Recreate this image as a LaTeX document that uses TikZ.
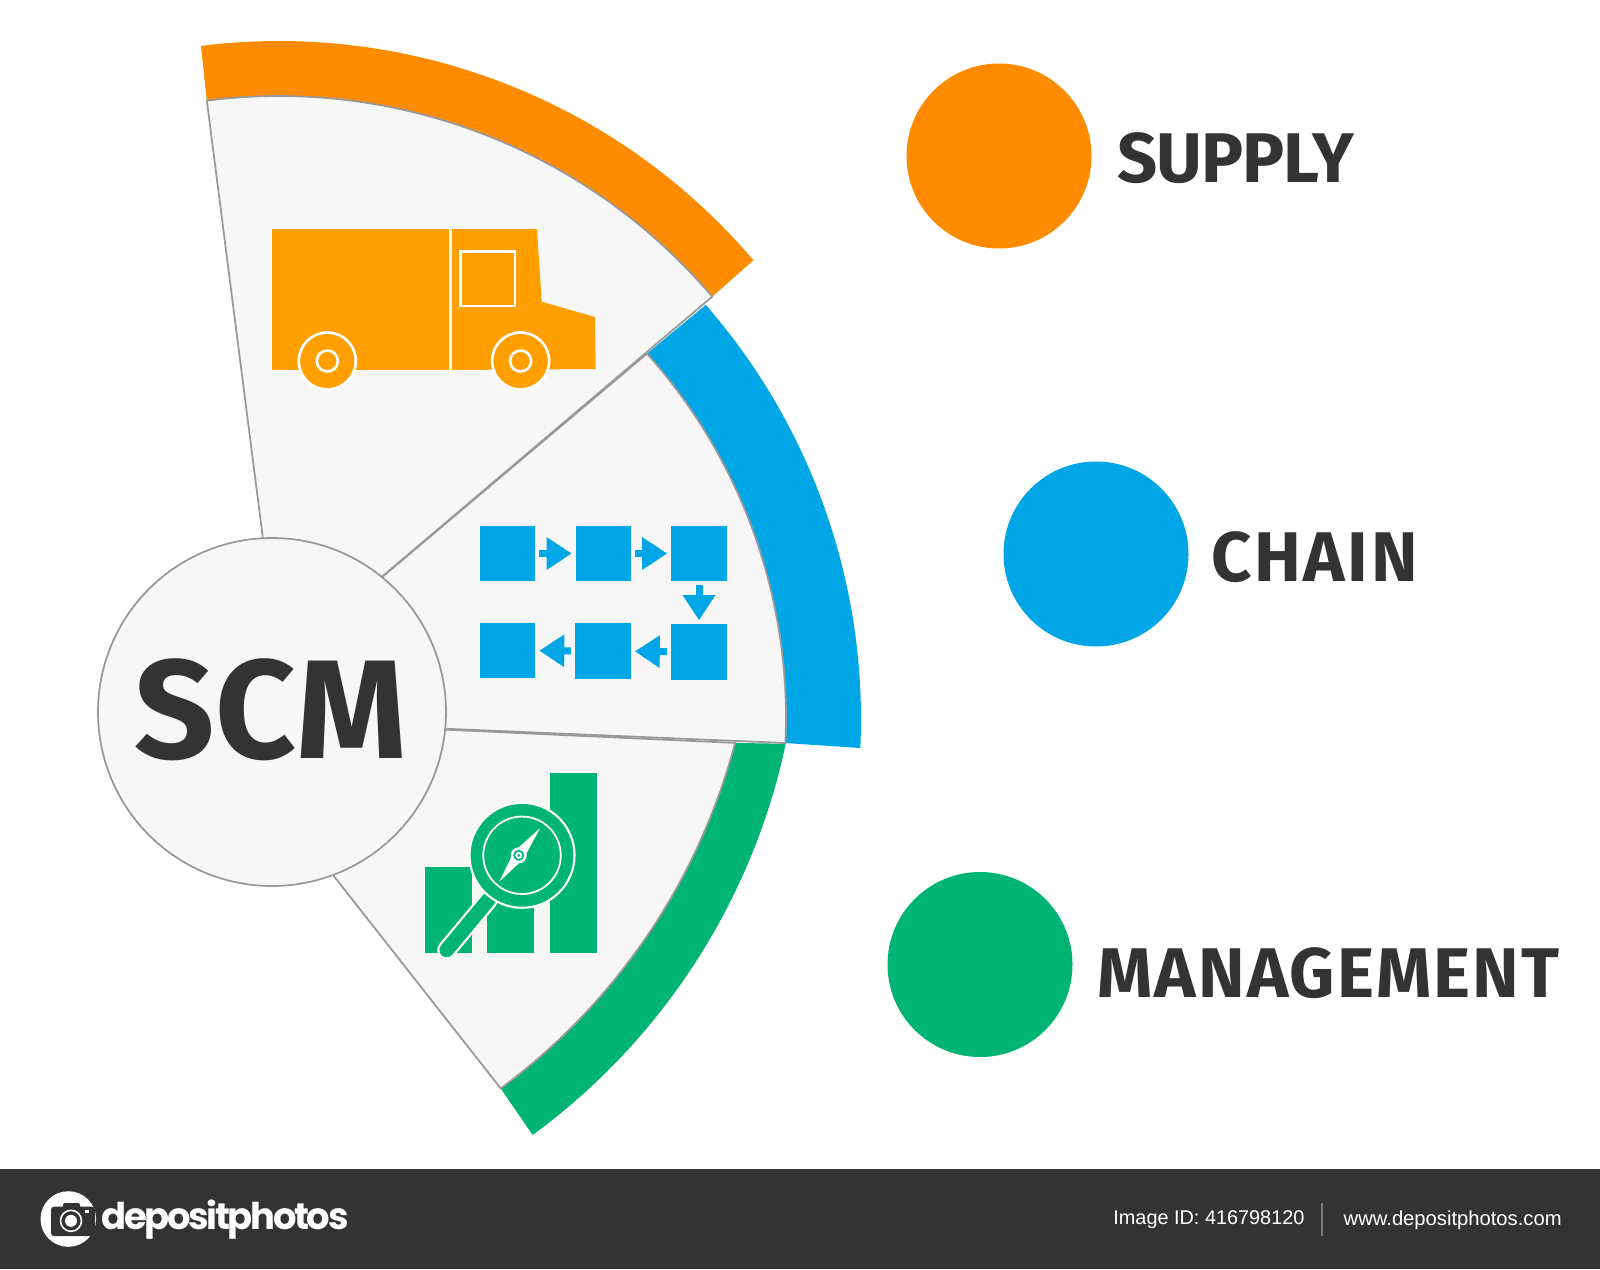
\documentclass[tikz,border=0pt]{standalone}
\usepackage{fontspec}
\usetikzlibrary{arrows.meta}
\newfontfamily\labelfont{Fira Sans}
\newfontfamily\bigfont[LetterSpace=0.5]{Fira Sans}
\newfontfamily\logofont[LetterSpace=-6.3]{Poppins}
\newfontfamily\barfont{Liberation Sans}
\definecolor{supplyc}{HTML}{FF8C00}
\definecolor{truckc}{HTML}{FFA000}
\definecolor{chainc}{HTML}{00A6E6}
\definecolor{managec}{HTML}{00B574}
\definecolor{inkc}{HTML}{333333}
\definecolor{panelc}{HTML}{F7F7F7}
\definecolor{edgec}{HTML}{999999}
\tikzset{panel/.style = {fill = panelc,
                         draw = edgec,
                         line width = 0.5pt},
         bigdot/.style = {shape = circle,
                          inner sep = 0pt,
                          minimum size = 1.85cm},
         wordlabel/.style = {text = inkc,
                             inner sep = 0pt,
                             font = \labelfont\bfseries\fontsize{20}{24}\selectfont},
         flowbox/.style = {shape = rectangle,
                           fill = chainc,
                           inner sep = 0pt,
                           outer sep = 0.04cm,
                           minimum size = 0.556cm},
         flowarrow/.style = {chainc,
                             line width = 0.07cm,
                             -{Triangle[length = 0.25cm, width = 0.31cm]}},
         wheel/.style = {shape = circle,
                         fill = truckc,
                         draw = white,
                         line width = 0.75pt,
                         inner sep = 0pt}}

\begin{document}
\begin{tikzpicture}
		\useasboundingbox (0,0) rectangle (16,12.69);
		\fill[white] (0,0) rectangle (16,12.69);
		\coordinate (oc) at (2.79,6.05);
		\coordinate (bc) at (2.14,5.50);
		\coordinate (bo) at (2.31,5.50);
		\coordinate (bi) at (2.40,5.515);
		\coordinate (go) at (1.47,6.61);
		\coordinate (gi) at (1.26,6.87);

		% coloured bands
		\fill[supplyc] ([shift={(97.2:6.23)}]oc) arc[start angle = 97.2, end angle = 40.4, radius = 6.23cm]
			-- ([shift={(40.3:5.68)}]oc) arc[start angle = 40.3, end angle = 97.3, radius = 5.68cm] -- cycle;
		\fill[managec] ([shift={(-12.0:6.53)}]go) arc[start angle = -12.0, end angle = -53.8, radius = 6.53cm]
			-- ([shift={(-53.5:6.30)}]gi) arc[start angle = -53.5, end angle = -14.8, radius = 6.30cm] -- cycle;
		\fill[chainc] ([shift={(41.1:6.30)}]bo) arc[start angle = 41.1, end angle = -2.64, radius = 6.30cm]
			-- ([shift={(-2.68:5.46)}]bi) arc[start angle = -2.68, end angle = 41.8, radius = 5.46cm] -- cycle;

		% grey panels
		\draw[panel] ([shift={(-14.8:6.30)}]gi) arc[start angle = -14.8, end angle = -53.5, radius = 6.30cm]
			-- (3.00,4.36) -- (3.00,5.46) -- cycle;
		\draw[panel] ([shift={(41.8:5.46)}]bi) arc[start angle = 41.8, end angle = -2.68, radius = 5.46cm]
			-- (bc) -- cycle;
		\draw[panel] ([shift={(97.3:5.68)}]oc) arc[start angle = 97.3, end angle = 40.3, radius = 5.68cm]
			-- (oc) -- cycle;

		% truck
		\fill[truckc] (2.715,10.40) rectangle (4.49,8.99);
		\fill[truckc] (4.52,10.40) -- (5.37,10.40) -- (5.417,9.673) -- (5.95,9.52) -- (5.957,9.00) -- (4.52,8.99) -- cycle;
		\draw[white, line width = 0.75pt] (4.605,10.173) rectangle (5.15,9.63);
		\foreach \wx/\wn in {3.273/rear, 5.206/front} {
			\node[wheel, minimum size = 0.57cm] (\wn) at (\wx,9.08) {};
			\node[wheel, minimum size = 0.21cm] (\wn hub) at (\wx,9.08) {};
		}

		% chain blocks
		\node[flowbox] (b1) at (5.075,7.155) {};
		\node[flowbox] (b2) at (6.035,7.155) {};
		\node[flowbox] (b3) at (6.990,7.155) {};
		\node[flowbox] (b4) at (6.990,6.170) {};
		\node[flowbox] (b5) at (6.030,6.180) {};
		\node[flowbox] (b6) at (5.075,6.185) {};
		\draw[flowarrow] (b1) -- (b2);
		\draw[flowarrow] (b2) -- (b3);
		\draw[flowarrow] (b3) -- (b4);
		\draw[flowarrow] (b4) -- (b5);
		\draw[flowarrow] (b5) -- (b6);

		% bars and magnifier
		\fill[managec] (4.247,3.163) rectangle (4.717,4.017);
		\fill[managec] (4.873,3.163) rectangle (5.343,4.500);
		\fill[managec] (5.503,3.163) rectangle (5.973,4.963);
		\draw[white, line width = 0.19cm, line cap = round] (4.883,3.69) -- (4.467,3.19);
		\draw[managec, line width = 0.145cm, line cap = round] (4.883,3.69) -- (4.467,3.19);
		\node[shape = circle, fill = managec, draw = white, line width = 0.6pt, inner sep = 0pt, minimum size = 1.05cm] (glass) at (5.22,4.137) {};
		\node[shape = circle, draw = white, line width = 0.5pt, inner sep = 0pt, minimum size = 0.775cm] (lens) at (5.22,4.137) {};
		\fill[white] (5.40,4.407) -- (5.235,4.101) -- (4.993,3.873) -- (5.139,4.173) -- cycle;
		\node[shape = circle, fill = white, inner sep = 0pt, minimum size = 0.16cm] (hub1) at (5.187,4.137) {};
		\node[shape = circle, fill = managec, inner sep = 0pt, minimum size = 0.11cm] (hub2) at (5.187,4.137) {};
		\node[shape = circle, fill = white, inner sep = 0pt, minimum size = 0.07cm] (hub3) at (5.187,4.137) {};
		\node[shape = circle, fill = managec, inner sep = 0pt, minimum size = 0.03cm] (hub4) at (5.187,4.137) {};

		% hub circle
		\node[shape = circle, fill = panelc, draw = edgec, line width = 0.5pt, inner sep = 0pt, minimum size = 3.48cm] (scm) at (2.72,5.57) {};
		\node[text = inkc, inner sep = 0pt, font = \bigfont\bfseries\fontsize{40}{48}\selectfont] (scmtext) at (2.71,5.595) {SCM};

		% legend
		\node[bigdot, fill = supplyc] (supply) at (9.99,11.13) {};
		\node[bigdot, fill = chainc] (chain) at (10.96,7.15) {};
		\node[bigdot, fill = managec] (manage) at (9.80,3.045) {};
		\node[wordlabel] (supplytext) at (12.355,11.105) {\addfontfeature{LetterSpace=-1.5}SUPPLY};
		\node[wordlabel] (chaintext) at (13.145,7.115) {\addfontfeature{LetterSpace=3.7}CHAIN};
		\node[wordlabel] (managetext) at (13.285,2.955) {\addfontfeature{LetterSpace=3}MANAGEMENT};

		% footer bar
		\fill[inkc] (0,0) rectangle (16,1.00);
		\node[shape = circle, fill = white, inner sep = 0pt, minimum size = 0.556cm] (logo) at (0.683,0.50) {};
		\fill[inkc, rounded corners = 0.03cm] (0.51,0.33) rectangle (0.95,0.623);
		\fill[inkc, rounded corners = 0.02cm] (0.63,0.60) rectangle (0.80,0.66);
		\fill[white] (0.85,0.56) rectangle (0.89,0.59);
		\node[shape = circle, draw = white, line width = 0.45pt, inner sep = 0pt, minimum size = 0.21cm] (lensring) at (0.71,0.482) {};
		\node[shape = circle, fill = white, inner sep = 0pt, minimum size = 0.12cm] (lensdot) at (0.71,0.482) {};
		\node[text = white, inner sep = 0pt, font = \logofont\bfseries\fontsize{10.5}{12}\selectfont] (logotext) at (2.25,0.49) {depositphotos};
		\node[text = white, inner sep = 0pt, anchor = west, font = \barfont\fontsize{5.65}{7}\selectfont] (imageid) at (11.127,0.49) {Image ID: 416798120};
		\node[text = white, inner sep = 0pt, anchor = west, font = \barfont\fontsize{5.75}{7}\selectfont] (website) at (13.43,0.49) {www.depositphotos.com};
		\coordinate (sepa) at (13.22,0.66);
		\coordinate (sepb) at (13.22,0.33);
		\draw[edgec!70!inkc, line width = 0.3pt] (sepa) -- (sepb);
	\end{tikzpicture}
\end{document}
